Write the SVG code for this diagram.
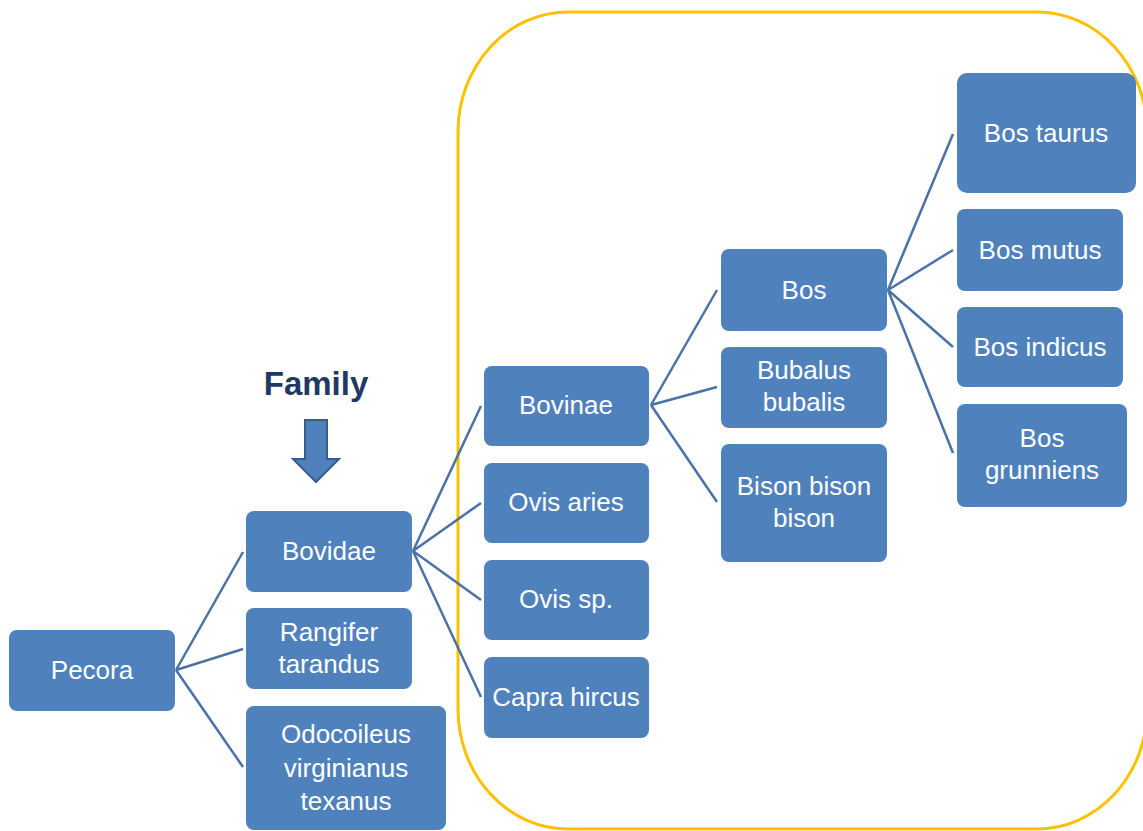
<svg xmlns="http://www.w3.org/2000/svg" width="1143" height="831" viewBox="0 0 1143 831">
<style>
.n rect{fill:#4F81BD;}
.n text{fill:#fff;font-family:"Liberation Sans",Arial,sans-serif;font-size:26px;text-anchor:middle;}
.c line{stroke:#4A72A6;stroke-width:2.5;}
</style>
<rect id="group-box" x="458" y="12" width="689" height="817" rx="110" ry="120" fill="none" stroke="#FFC000" stroke-width="3"/>
<g id="family-label">
<text x="316" y="395" font-family="Liberation Sans,Arial,sans-serif" font-weight="bold" font-size="33" fill="#1F3864" text-anchor="middle">Family</text>
<path d="M305 420 H327 V459 H339 L316 482 L293 459 H305 Z" fill="#4F81BD" stroke="#385D8A" stroke-width="2"/>
</g>
<g id="connectors" class="c">
<line x1="176" y1="670" x2="243" y2="552"/>
<line x1="176" y1="670" x2="243" y2="649"/>
<line x1="176" y1="670" x2="243" y2="767"/>
<line x1="413" y1="551" x2="481" y2="406"/>
<line x1="413" y1="551" x2="481" y2="503"/>
<line x1="413" y1="551" x2="481" y2="600"/>
<line x1="413" y1="551" x2="481" y2="697"/>
<line x1="651" y1="405" x2="717" y2="290"/>
<line x1="651" y1="405" x2="717" y2="387"/>
<line x1="651" y1="405" x2="717" y2="502"/>
<line x1="888" y1="290" x2="953" y2="134"/>
<line x1="888" y1="290" x2="953" y2="250"/>
<line x1="888" y1="290" x2="953" y2="347"/>
<line x1="888" y1="290" x2="953" y2="453"/>
</g>
<g id="pecora" class="n"><rect x="9" y="630" width="166" height="81" rx="8"/><text x="92" y="679">Pecora</text></g>
<g id="bovidae" class="n"><rect x="246" y="511" width="166" height="81" rx="8"/><text x="329" y="560">Bovidae</text></g>
<g id="rangifer" class="n"><rect x="246" y="608" width="166" height="81" rx="8"/><text x="329" y="641">Rangifer</text><text x="329" y="673">tarandus</text></g>
<g id="odocoileus" class="n"><rect x="246" y="706" width="200" height="124" rx="8"/><text x="346" y="743">Odocoileus</text><text x="346" y="777">virginianus</text><text x="346" y="810">texanus</text></g>
<g id="bovinae" class="n"><rect x="484" y="366" width="165" height="80" rx="8"/><text x="566" y="414">Bovinae</text></g>
<g id="ovis-aries" class="n"><rect x="484" y="463" width="165" height="80" rx="8"/><text x="566" y="511">Ovis aries</text></g>
<g id="ovis-sp" class="n"><rect x="484" y="560" width="165" height="80" rx="8"/><text x="566" y="608">Ovis sp.</text></g>
<g id="capra" class="n"><rect x="484" y="657" width="165" height="81" rx="8"/><text x="566" y="706">Capra hircus</text></g>
<g id="bos" class="n"><rect x="721" y="249" width="166" height="82" rx="8"/><text x="804" y="299">Bos</text></g>
<g id="bubalus" class="n"><rect x="721" y="347" width="166" height="81" rx="8"/><text x="804" y="379">Bubalus</text><text x="804" y="411">bubalis</text></g>
<g id="bison" class="n"><rect x="721" y="444" width="166" height="118" rx="8"/><text x="804" y="495">Bison bison</text><text x="804" y="527">bison</text></g>
<g id="bos-taurus" class="n"><rect x="957" y="73" width="179" height="120" rx="10"/><text x="1046" y="142">Bos taurus</text></g>
<g id="bos-mutus" class="n"><rect x="957" y="209" width="166" height="82" rx="8"/><text x="1040" y="259">Bos mutus</text></g>
<g id="bos-indicus" class="n"><rect x="957" y="307" width="166" height="80" rx="8"/><text x="1040" y="356">Bos indicus</text></g>
<g id="bos-grunniens" class="n"><rect x="957" y="404" width="170" height="103" rx="8"/><text x="1042" y="447">Bos</text><text x="1042" y="479">grunniens</text></g>
</svg>
